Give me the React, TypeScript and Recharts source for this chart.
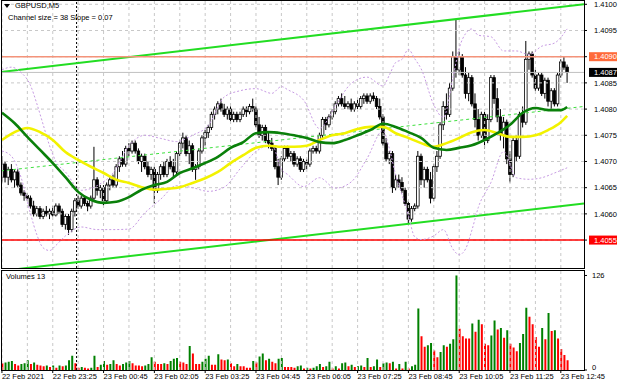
import { ComposedChart, Bar, Line, XAxis, YAxis, ReferenceLine, Cell } from 'recharts';

const FONT = '"Liberation Sans", Arial, sans-serif';
const FS = 7.5;

// prices are kept in pips above 1.4000, one entry per M5 bar from 22 Feb 22:05
const BASE = 1.4;
const px = (p: number) => BASE + p / 10000;

const opens = [
  67, 69.5, 67, 68.5, 66.5, 68, 65.5, 64, 63.5, 63,
  61.5, 60, 61, 59.5, 60.5, 60, 60.5, 59.8, 61.5, 60.5,
  58, 59.5, 57, 60.5, 62.5, 61.5, 63, 62, 61.5, 63,
  66.5, 64.5, 65, 62.5, 65.5, 66.5, 65.5, 69, 70.5, 69.5,
  72.5, 72, 73.5, 72, 70, 71, 69, 67.5, 68.5, 64.5,
  67.5, 69, 67.5, 70, 69, 68, 71.5, 73.5, 74.5, 71.5,
  73, 68.5, 69, 72, 74.5, 75.5, 76.5, 79, 80, 81,
  80, 79, 80, 78, 79, 78, 79, 80, 79.5, 80.5,
  80, 77, 75, 76.5, 74, 73.5, 72.5, 69, 67, 70.5,
  72.5, 71, 71.5, 69.5, 70.5, 68.5, 70, 69.5, 72, 72.5,
  72, 75, 78, 77, 78.5, 79.5, 81, 82, 81, 80.5,
  81, 80, 81, 80.5, 82, 82.5, 81.5, 82.5, 82, 80.5,
  78.5, 73.5, 70.5, 71.5, 65, 66.5, 66, 64.5, 62, 59,
  61, 61.5, 71, 66.5, 68.5, 66.5, 63, 69, 71, 77,
  80.5, 79, 84, 90, 87.5, 90, 86.5, 83, 86, 81,
  78, 75, 79, 74, 78, 86, 82, 78.5, 75, 77.5,
  70.5, 67.5, 74, 71, 79, 77.5, 89.5, 90.5, 86.5, 84,
  86.5, 83, 85.5, 81.5, 83.5, 81, 86.5, 89, 88,
];

const highs = [
  71, 70, 69, 69.5, 68.5, 68.5, 66, 64.5, 64, 63.5,
  62.5, 61.5, 61.5, 61, 61.5, 61, 61.5, 62, 62, 61,
  60, 60, 61, 63, 63.5, 63.5, 63.5, 62.5, 63.5, 72.8,
  67, 65.5, 65.5, 66, 67, 67.5, 69.5, 71, 72, 73,
  73.5, 74, 74, 72.5, 71.5, 71.5, 70, 69, 69, 68,
  69.5, 70, 70.5, 71, 70.5, 72, 74, 75.5, 75, 74,
  73.5, 69.5, 72.5, 75, 76, 77, 79.5, 80.5, 81.5, 82,
  81, 80.5, 80.5, 79.5, 79.5, 79.5, 80.5, 80.5, 81, 82,
  80.5, 78.5, 77, 77, 75.5, 74.5, 73, 70.5, 71, 73,
  73, 72, 72, 71, 71, 70.5, 70.5, 72.5, 73, 73,
  75.5, 78.5, 78.5, 79, 80, 81.5, 82.5, 83, 82.5, 81.5,
  82, 81.5, 82, 82.5, 83, 83, 83, 83.2, 82.5, 82,
  79, 74.5, 72, 72, 67.5, 67.5, 67, 65, 62.5, 61.5,
  62, 72, 71.5, 69, 69, 68, 69.5, 72, 77.5, 81.5,
  83, 85, 91, 97, 91, 90.5, 88, 87, 86.5, 83,
  80, 79.5, 79.5, 79, 86.5, 86.5, 84, 80, 78.5, 78,
  72, 74.5, 75, 79.5, 80.5, 93, 91, 91, 87.5, 87,
  87, 86, 86, 84, 84, 87, 89.5, 90, 88.5,
];

const lows = [
  66, 66, 65.5, 66, 65, 65, 63.5, 62.5, 62.5, 61,
  59.5, 59.5, 59, 59, 59.5, 59, 59.5, 59.5, 60, 57.5,
  57, 56, 56.5, 59.5, 61, 61, 61.5, 60.5, 61, 62.5,
  63.5, 63, 61.5, 62, 64.5, 65, 65, 68, 69, 69,
  71, 71.5, 71.5, 69.5, 68, 68.5, 67, 66.5, 62, 64,
  66.5, 67, 67, 68.5, 67, 67.5, 71, 72.5, 71, 69.5,
  68, 66.5, 68.5, 71.5, 73, 74.5, 76, 78, 79, 79.5,
  78.5, 78, 77.5, 77.5, 77.5, 77.5, 78.5, 78.5, 79, 79.5,
  76.5, 74.5, 74, 73.5, 72.5, 72, 68.5, 65.5, 66.5, 70,
  70.5, 70, 69, 69, 68, 68, 68.5, 69, 71.5, 71.5,
  71.5, 74.5, 76, 76.5, 78, 79, 80.5, 80.5, 80, 80,
  79.5, 79.5, 80, 80, 81, 81, 81, 81.5, 80, 78,
  73, 70, 69.5, 64, 64.5, 65, 64, 61.5, 58, 58.5,
  60.5, 61, 65.5, 65, 66, 62, 62.5, 68, 70.5, 76,
  78, 78.5, 83.5, 86, 86.5, 86, 82, 81.5, 80.5, 76.5,
  74, 74.5, 72.5, 73.5, 77.5, 81, 77.5, 74, 72.5, 69.5,
  66, 67, 70, 70.5, 76.5, 77, 87.5, 86, 83.5, 83.5,
  82.5, 82, 80.5, 80, 80.5, 80.5, 86, 87.5, 85,
];

const closes = [
  69.5, 67, 68.5, 66.5, 68, 65.5, 64, 63.5, 63, 61.5,
  60, 61, 59.5, 60.5, 60, 60.5, 59.8, 61.5, 60.5, 58,
  59.5, 57, 60.5, 62.5, 61.5, 63, 62, 61.5, 63, 66.5,
  64.5, 65, 62.5, 65.5, 66.5, 65.5, 69, 70.5, 69.5, 72.5,
  72, 73.5, 72, 70, 71, 69, 67.5, 68.5, 64.5, 67.5,
  69, 67.5, 70, 69, 68, 71.5, 73.5, 74.5, 71.5, 73,
  68.5, 69, 72, 74.5, 75.5, 76.5, 79, 80, 81, 80,
  79, 80, 78, 79, 78, 79, 80, 79.5, 80.5, 80,
  77, 75, 76.5, 74, 73.5, 72.5, 69, 67, 70.5, 72.5,
  71, 71.5, 69.5, 70.5, 68.5, 70, 69.5, 72, 72.5, 72,
  75, 78, 77, 78.5, 79.5, 81, 82, 81, 80.5, 81,
  80, 81, 80.5, 82, 82.5, 81.5, 82.5, 82, 80.5, 78.5,
  73.5, 70.5, 71.5, 65, 66.5, 66, 64.5, 62, 59, 61,
  61.5, 71, 66.5, 68.5, 66.5, 63, 69, 71, 77, 80.5,
  79, 84, 90, 87.5, 90, 86.5, 83, 86, 81, 78,
  75, 79, 74, 78, 86, 82, 78.5, 75, 77.5, 70.5,
  67.5, 74, 71, 79, 77.5, 89.5, 90.5, 86.5, 84, 86.5,
  83, 85.5, 81.5, 83.5, 81, 86.5, 89, 88, 87,
];

const volumes = [
  9, 10, 11, 12, 8, 6, 8, 9, 13, 8,
  10, 7, 6, 5, 6, 4, 6, 3, 6, 5,
  6, 13, 19, 9, 3, 4, 3, 2, 3, 19,
  4, 7, 12, 7, 8, 13, 8, 6, 8, 10,
  12, 9, 6, 6, 5, 6, 8, 17, 11, 8,
  8, 9, 8, 12, 15, 16, 11, 10, 8, 32,
  22, 8, 8, 11, 15, 19, 7, 7, 21, 14,
  13, 14, 9, 5, 8, 5, 5, 3, 3, 12,
  10, 18, 22, 13, 15, 11, 9, 15, 16, 4,
  4, 4, 3, 5, 6, 2, 3, 2, 3, 5,
  8, 4, 5, 11, 2, 5, 2, 9, 10, 5,
  7, 4, 5, 6, 4, 16, 4, 5, 14, 4,
  9, 10, 9, 11, 2, 8, 2, 11, 2, 5,
  7, 82, 45, 31, 33, 36, 26, 17, 24, 33,
  31, 35, 41, 126, 55, 45, 42, 42, 62, 51,
  67, 61, 35, 33, 46, 66, 54, 56, 43, 53,
  35, 30, 25, 36, 48, 83, 71, 61, 44, 31,
  56, 41, 76, 52, 53, 42, 28, 20, 13,
];

// indicator readings [bar, pips]
const maGreen: [number, number][] = [
  [0, 79.3], [4, 77.3], [8, 74.7], [12, 72.2], [16, 69.7], [20, 67.0], [24, 64.2], [28, 62.7],
  [32, 62.1], [36, 62.3], [40, 63.2], [44, 64.6], [48, 65.5], [52, 66.1], [56, 67.8], [60, 68.7],
  [64, 69.7], [68, 70.9], [72, 72.6], [76, 73.7], [80, 75.4], [84, 75.6], [88, 75.4], [92, 75.0],
  [96, 74.5], [100, 73.7], [104, 73.5], [108, 74.1], [112, 75.0], [116, 76.0], [120, 77.2], [124, 76.6],
  [128, 75.6], [132, 74.5], [136, 72.6], [140, 72.2], [144, 72.6], [148, 73.1], [152, 74.1], [156, 75.4],
  [160, 77.0], [164, 79.3], [168, 80.2], [172, 79.8], [176, 79.8], [178, 80.4],
];

const maYellow: [number, number][] = [
  [0, 74.1], [4, 75.6], [8, 76.4], [12, 75.6], [16, 74.1], [20, 71.8], [24, 70.3], [28, 69.0],
  [32, 67.8], [36, 66.5], [40, 65.9], [44, 65.1], [48, 64.6], [52, 64.8], [56, 65.1], [60, 65.9],
  [64, 66.8], [68, 68.0], [72, 69.7], [76, 71.2], [80, 72.6], [84, 73.0], [88, 72.8], [92, 72.8],
  [96, 73.0], [100, 74.1], [104, 75.0], [108, 75.4], [112, 76.2], [116, 76.6], [120, 76.6], [124, 75.4],
  [128, 74.5], [132, 73.5], [136, 72.8], [140, 73.5], [144, 74.5], [148, 75.6], [152, 76.0], [156, 75.4],
  [160, 74.7], [164, 74.7], [168, 75.0], [172, 76.0], [176, 77.5], [178, 78.7],
];

const bbUpper: [number, number][] = [
  [0, 87.5], [3, 88], [6, 87], [9, 84.5], [11, 81], [13, 77], [15, 73], [17, 70], [20, 68],
  [25, 64.5], [30, 65.4], [35, 67.8], [40, 73], [45, 75], [50, 74.4], [55, 73.8], [60, 75],
  [65, 76.9], [70, 82.3], [75, 83.5], [80, 83.9], [85, 83], [88, 84.3], [90, 83.7], [95, 81.7],
  [100, 76.3], [105, 80.6], [110, 84.9], [115, 86.1], [120, 84.4], [122, 86.5], [124, 88.9],
  [126, 89.5], [128, 91.4], [130, 89.6], [132, 87.7], [136, 80.8], [139, 78.4], [142, 85.9],
  [144, 91.6], [146, 94.4], [148, 95.3], [150, 94.1], [154, 93.8], [158, 91.1], [162, 91.1],
  [166, 90.4], [170, 92], [174, 92.6], [178, 95.3],
];

const bbLower: [number, number][] = [
  [0, 72], [3, 71], [6, 67], [9, 60], [11, 56], [13, 53.5], [15, 53], [17, 54], [20, 55.8],
  [25, 57.5], [30, 57], [35, 57], [40, 57.1], [45, 60.2], [50, 62.8], [55, 65.4], [60, 65],
  [65, 64.3], [70, 65.1], [75, 68.6], [80, 71.9], [85, 73.2], [88, 68.5], [90, 67.5], [95, 65.2],
  [100, 66.9], [105, 64.9], [110, 66.1], [115, 70.6], [120, 75.9], [122, 72.5], [124, 67.4],
  [126, 63.6], [128, 59.7], [130, 55.6], [132, 55.1], [136, 55.8], [139, 57], [142, 53.3],
  [144, 52.2], [146, 53.3], [148, 56.9], [150, 61.2], [154, 66], [158, 71.9], [162, 66.9],
  [166, 66.6], [170, 66.9], [174, 67.8], [178, 68.8],
];

const priceTicks = [1.4055, 1.406, 1.4065, 1.407, 1.4075, 1.408, 1.4085, 1.409, 1.4095, 1.41];
const taggedTicks = ['1.4055', '1.4090'];
const timeTicks = [0, 16, 32, 48, 64, 80, 96, 112, 128, 144, 160, 176];
const timeLabels = [
  '22 Feb 2021', '22 Feb 23:25', '23 Feb 00:45', '23 Feb 02:05', '23 Feb 03:25', '23 Feb 04:45',
  '23 Feb 06:05', '23 Feb 07:25', '23 Feb 08:45', '23 Feb 10:05', '23 Feb 11:25', '23 Feb 12:45',
];
const gridBars = [0, 8, 16, 24, 32, 40, 48, 56, 64, 72, 80, 88, 96, 104, 112, 120, 128, 136, 144, 152, 160, 168, 176];

const X_MIN = -0.3;
const X_MAX = 183.3;
const Y_MIN = px(49.67);
const Y_MAX = px(100.82);

const data: any[] = closes.map((c, i) => ({
  i,
  open: px(opens[i]),
  high: px(highs[i]),
  low: px(lows[i]),
  close: px(c),
  vol: volumes[i],
}));
const put = (key: string, pts: [number, number][]) => pts.forEach(([b, v]) => { data[b][key] = px(v); });
put('maGreen', maGreen);
put('maYellow', maYellow);
put('bbUp', bbUpper);
put('bbLo', bbLower);

const Candle = (props: any) => {
  const { x, y, width, height, payload } = props;
  if (!payload) return null;
  const { open, close, high, low } = payload;
  const cx = x + width / 2;
  const span = high - low || 1e-9;
  const yOf = (v: number) => y + ((high - v) / span) * height;
  const up = close >= open;
  const top = yOf(Math.max(open, close));
  const bot = yOf(Math.min(open, close));
  const bw = 2.6;
  return (
    <g>
      <line x1={cx} x2={cx} y1={y} y2={y + height} stroke="#000" strokeWidth={1} />
      <rect
        x={cx - bw / 2}
        y={top}
        width={bw}
        height={Math.max(bot - top, 0.8)}
        fill={up ? '#ffffff' : '#000000'}
        stroke="#000"
        strokeWidth={0.8}
      />
    </g>
  );
};

const PriceTag = ({ viewBox, text, bg }: any) => {
  if (!viewBox) return null;
  const right = viewBox.x + viewBox.width;
  return (
    <g>
      <rect x={right + 5} y={viewBox.y - 4.5} width={28} height={9} fill={bg} />
      <text x={right + 10} y={viewBox.y} dy="0.35em" fontSize={FS} fill="#fff" fontFamily={FONT}>{text}</text>
    </g>
  );
};

const PriceTick = ({ x, y, payload }: any) => {
  const label = Number(payload.value).toFixed(4);
  if (taggedTicks.includes(label)) return null;
  return (
    <text x={x} y={y} dy="0.35em" fontSize={FS} fill="#000" fontFamily={FONT}>{label}</text>
  );
};

const TimeTick = ({ x, y, payload }: any) => (
  <text x={x} y={y + 6} fontSize={FS} fill="#000" fontFamily={FONT} textAnchor="start">
    {timeLabels[Math.round(payload.value / 16)]}
  </text>
);

const VolTick = ({ x, y, payload }: any) => (
  <text x={x} y={payload.value === 0 ? y - 3 : y} dy="0.35em" fontSize={FS} fill="#000" fontFamily={FONT}>
    {payload.value}
  </text>
);

const grid = { stroke: '#c8c8c8', strokeDasharray: '3 3', strokeWidth: 1 };

export default function App() {
  return (
    <div style={{ position: 'absolute', left: 0, top: 0, width: 620, height: 388, background: '#fff', fontFamily: FONT }}>
      <div style={{ position: 'absolute', left: 0, top: 0 }}>
        <ComposedChart width={620} height={269} data={data} margin={{ top: 0, right: 1, bottom: 1, left: 1 }}>
          <XAxis dataKey="i" type="number" domain={[X_MIN, X_MAX]} allowDataOverflow hide />
          <YAxis
            orientation="right"
            type="number"
            domain={[Y_MIN, Y_MAX]}
            allowDataOverflow
            ticks={priceTicks}
            interval={0}
            width={35}
            tickSize={3}
            tickMargin={7}
            axisLine={false}
            tickLine={{ stroke: '#000' }}
            tick={<PriceTick />}
          />
          {gridBars.map((b) => <ReferenceLine key={`gx${b}`} x={b} {...grid} />)}
          {priceTicks.map((p) => <ReferenceLine key={`gy${p}`} y={p} {...grid} />)}
          <ReferenceLine x={23.5} stroke="#000" strokeDasharray="2 2" />

          <ReferenceLine
            segment={[{ x: X_MIN, y: px(68.2) }, { x: X_MAX, y: px(80.5) }]}
            stroke="#3ee03e"
            strokeDasharray="3 3"
            ifOverflow="hidden"
          />
          <ReferenceLine
            segment={[{ x: X_MIN, y: px(87.1) }, { x: X_MAX, y: px(100) }]}
            stroke="#22dd22"
            strokeWidth={2}
            ifOverflow="hidden"
          />
          <ReferenceLine
            segment={[{ x: X_MIN, y: px(49.1) }, { x: X_MAX, y: px(62) }]}
            stroke="#22dd22"
            strokeWidth={2}
            ifOverflow="hidden"
          />
          <ReferenceLine y={px(87)} stroke="#c0c0c0" label={<PriceTag text="1.4087" bg="#000" />} />
          <ReferenceLine y={px(90)} stroke="#f4937a" strokeWidth={1.5} label={<PriceTag text="1.4090" bg="#ff6a3a" />} />
          <ReferenceLine y={px(55)} stroke="#ff0000" strokeWidth={1.5} label={<PriceTag text="1.4055" bg="#ff0000" />} />

          <Line dataKey="bbUp" stroke="#c79be3" strokeWidth={1} strokeDasharray="2 2" dot={false} connectNulls type="monotone" isAnimationActive={false} />
          <Line dataKey="bbLo" stroke="#c79be3" strokeWidth={1} strokeDasharray="2 2" dot={false} connectNulls type="monotone" isAnimationActive={false} />
          <Bar dataKey={(d: any) => [d.low, d.high]} barSize={3} shape={<Candle />} isAnimationActive={false} />
          <Line dataKey="maYellow" stroke="#f2f200" strokeWidth={2.6} dot={false} connectNulls type="monotone" isAnimationActive={false} />
          <Line dataKey="maGreen" stroke="#0a800a" strokeWidth={2.6} dot={false} connectNulls type="monotone" isAnimationActive={false} />
        </ComposedChart>
      </div>

      <div style={{ position: 'absolute', left: 0, top: 269 }}>
        <ComposedChart width={620} height={119} data={data} margin={{ top: 1, right: 1, bottom: 0, left: 1 }}>
          <XAxis
            dataKey="i"
            type="number"
            domain={[X_MIN, X_MAX]}
            allowDataOverflow
            ticks={timeTicks}
            interval={0}
            height={18}
            tickSize={3}
            tickMargin={0}
            axisLine={false}
            tickLine={{ stroke: '#000' }}
            tick={<TimeTick />}
          />
          <YAxis
            orientation="right"
            type="number"
            domain={[0, 133.3]}
            allowDataOverflow
            ticks={[0, 126]}
            interval={0}
            width={35}
            tickSize={3}
            tickMargin={5}
            axisLine={false}
            tickLine={{ stroke: '#000' }}
            tick={<VolTick />}
          />
          {gridBars.map((b) => <ReferenceLine key={`vx${b}`} x={b} {...grid} />)}
          <ReferenceLine x={23.5} stroke="#000" strokeDasharray="2 2" />
          <Bar dataKey="vol" barSize={2} isAnimationActive={false}>
            {data.map((d, i) => (
              <Cell key={`v${i}`} fill={i > 0 && d.vol > data[i - 1].vol ? '#008000' : '#ff0000'} />
            ))}
          </Bar>
        </ComposedChart>
      </div>

      {/* pane frames */}
      <div style={{ position: 'absolute', left: 1, top: 0, width: 584, height: 269, border: '1px solid #000', boxSizing: 'border-box', pointerEvents: 'none' }} />
      <div style={{ position: 'absolute', left: 1, top: 270, width: 584, height: 101, border: '1px solid #000', boxSizing: 'border-box', pointerEvents: 'none' }} />

      <div style={{ position: 'absolute', left: 4, top: 1, fontSize: FS, lineHeight: '10px', color: '#000', whiteSpace: 'nowrap' }}>
        <svg width={7} height={6} style={{ marginRight: 4, verticalAlign: 'middle' }}>
          <polygon points="0,1 6,1 3,5" fill="#000" />
        </svg>
        GBPUSD,M5
      </div>
      <div style={{ position: 'absolute', left: 8, top: 13, fontSize: FS, lineHeight: '10px', color: '#000', whiteSpace: 'nowrap' }}>
        Channel size = 38 Slope = 0.07
      </div>
      <div style={{ position: 'absolute', left: 6, top: 272, fontSize: FS, lineHeight: '10px', color: '#000', whiteSpace: 'nowrap' }}>
        Volumes 13
      </div>
    </div>
  );
}
